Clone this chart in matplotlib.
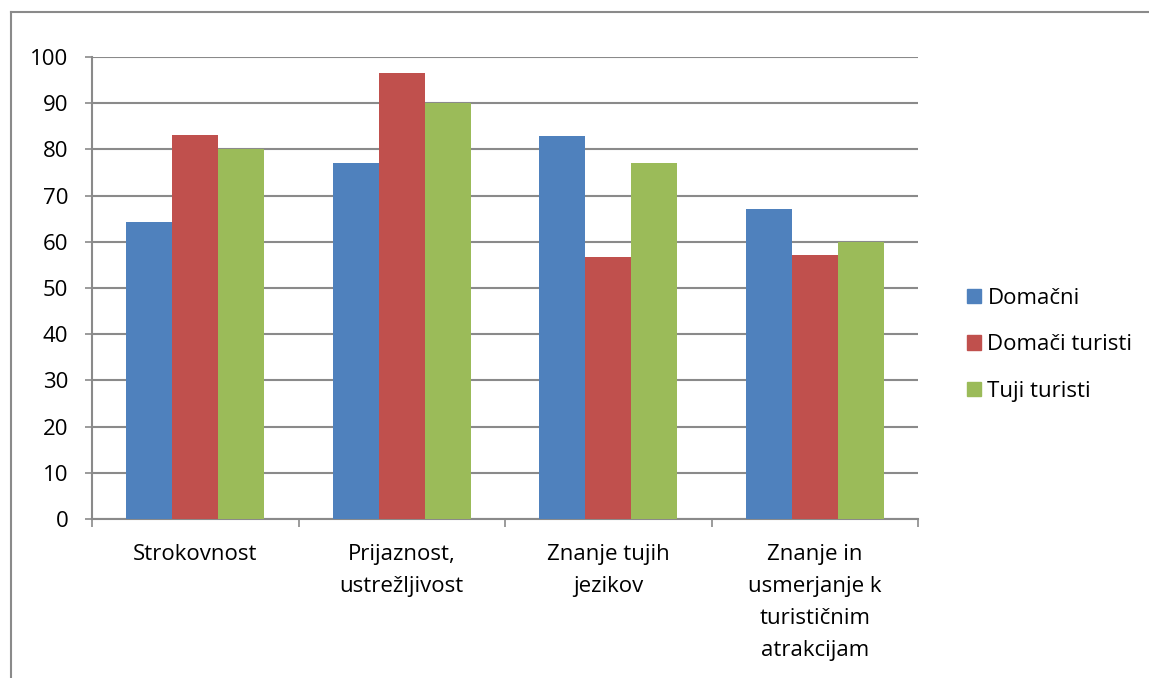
import matplotlib

matplotlib.use("Agg")
import matplotlib.pyplot as plt
import numpy as np
from matplotlib.lines import Line2D

categories = [
    "Strokovnost",
    "Prijaznost,\nustrežljivost",
    "Znanje tujih\njezikov",
    "Znanje in\nusmerjanje k\nturističnim\natrakcijam",
]
series_names = ["Domačni", "Domači turisti", "Tuji turisti"]
domacni = [64.3, 77.1, 82.8, 67.1]
domaci_turisti = [83.1, 96.6, 56.7, 57.1]
tuji_turisti = [80.0, 90.0, 77.1, 60.0]
colors = ["#4F81BD", "#C0504D", "#9BBB59"]

plt.rcParams["font.family"] = ["Open Sans", "DejaVu Sans"]
font_size = 16

figure = plt.figure(figsize=(11.49, 6.78), dpi=100)
axis = figure.add_axes([92 / 1149, 1 - 519 / 678, (918 - 92) / 1149, (519 - 57) / 678])

x = np.arange(len(categories))
bar_width = 1 / 4.5
for i, values in enumerate([domacni, domaci_turisti, tuji_turisti]):
    axis.bar(
        x + (i - 1) * bar_width,
        values,
        width=bar_width,
        color=colors[i],
        label=series_names[i],
        zorder=3,
    )

axis.set_xlim(-0.5, len(categories) - 0.5)
axis.set_ylim(0, 100)
axis.set_yticks(range(0, 101, 10))
axis.yaxis.grid(True, color="#8a8a8a", linewidth=1.5, zorder=0)
axis.set_axisbelow(True)

for side in ("top", "right"):
    axis.spines[side].set_visible(False)
for side in ("left", "bottom"):
    axis.spines[side].set_color("#8a8a8a")
    axis.spines[side].set_linewidth(1.5)

axis.set_xticks(np.arange(-0.5, len(categories), 1.0))
axis.set_xticklabels([])
axis.set_xticks(x, minor=True)
axis.set_xticklabels(categories, minor=True, fontsize=font_size, linespacing=1.68, va="top")
axis.tick_params(axis="x", which="major", length=6, width=1.2, color="#8a8a8a")
axis.tick_params(axis="x", which="minor", length=0, pad=18)
axis.tick_params(axis="y", length=5, width=1.2, color="#8a8a8a", labelsize=font_size, pad=12)

handles = [plt.Rectangle((0, 0), 1, 1, color=c) for c in colors]
legend = axis.legend(
    handles,
    series_names,
    loc="center left",
    frameon=False,
    fontsize=font_size,
    handlelength=0.62,
    handleheight=0.62,
    handletextpad=0.3,
    labelspacing=1.15,
)
legend.set_bbox_to_anchor((947 / 1149, 1 - 345 / 678), transform=figure.transFigure)

# outer chart frame (clipped on right and bottom)
figure.add_artist(Line2D([11 / 1149, 11 / 1149], [0, 1 - 12 / 678], color="#8a8a8a", linewidth=1.5))
figure.add_artist(Line2D([11 / 1149, 1], [1 - 12 / 678, 1 - 12 / 678], color="#8a8a8a", linewidth=1.5))

figure.savefig("out.png", dpi=100)
plt.close(figure)
